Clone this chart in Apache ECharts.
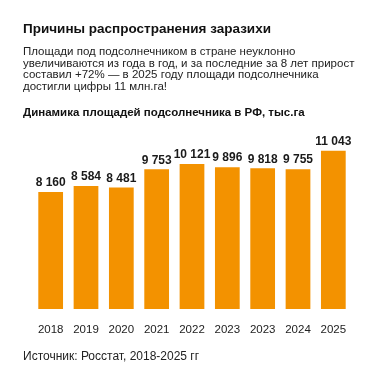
<!DOCTYPE html>
<html><head><meta charset="utf-8">
<script src="https://cdn.jsdelivr.net/npm/echarts@6/dist/echarts.min.js"></script>
<style>html,body{margin:0;padding:0;background:#fff}#c{width:384px;height:384px}</style>
</head><body><div id="c"></div>
<script>
var categories = ['2018','2019','2020','2021','2022','2023','2023','2024','2025'];
var values = [8160, 8584, 8481, 9753, 10121, 9896, 9818, 9755, 11043];
var titleText = 'Причины распространения заразихи';
var subText = 'Площади под подсолнечником в стране неуклонно\nувеличиваются из года в год, и за последние за 8 лет прирост\nсоставил +72% — в 2025 году площади подсолнечника\nдостигли цифры 11 млн.га!';
var chartTitle = 'Динамика площадей подсолнечника в РФ, тыс.га';
var sourceText = 'Источник: Росстат, 2018-2025 гг';

function fmt(v){ return String(v).replace(/\B(?=(\d{3})+(?!\d))/g, ' '); }

var chart = echarts.init(document.getElementById('c'), null, {renderer:'canvas'});
chart.setOption({
  animation:false,
  title:[
    {text:titleText, left:23, top:22, padding:0, textStyle:{fontFamily:'Liberation Sans', fontSize:13.5, fontWeight:'bold', color:'#111'}},
    {text:subText, left:23, top:46, padding:0, textStyle:{fontFamily:'Liberation Sans', fontSize:11.5, fontWeight:'normal', color:'#222', lineHeight:11.7}},
    {text:chartTitle, left:23, top:107, padding:0, textStyle:{fontFamily:'Liberation Sans', fontSize:11.5, fontWeight:'bold', color:'#111'}},
    {text:sourceText, left:23, top:351, padding:0, textStyle:{fontFamily:'Liberation Sans', fontSize:12, fontWeight:'normal', color:'#222'}}
  ],
  grid:{left:33, right:33, top:137, bottom:75},
  xAxis:{type:'category', data:categories, axisLine:{show:false}, axisTick:{show:false},
    axisLabel:{margin:15, fontFamily:'Liberation Sans', fontSize:11.5, color:'#222', interval:0}},
  yAxis:{type:'value', min:0, max:12000, show:false, splitLine:{show:false}},
  series:[{type:'bar', data:values, barCategoryGap:'30%', itemStyle:{color:'#F39200'},
    label:{show:true, position:'top', distance:3, formatter:function(p){return fmt(p.value);},
      fontFamily:'Liberation Sans', fontSize:12, fontWeight:'bold', color:'#1a1a1a'}}]
});
</script></body></html>
